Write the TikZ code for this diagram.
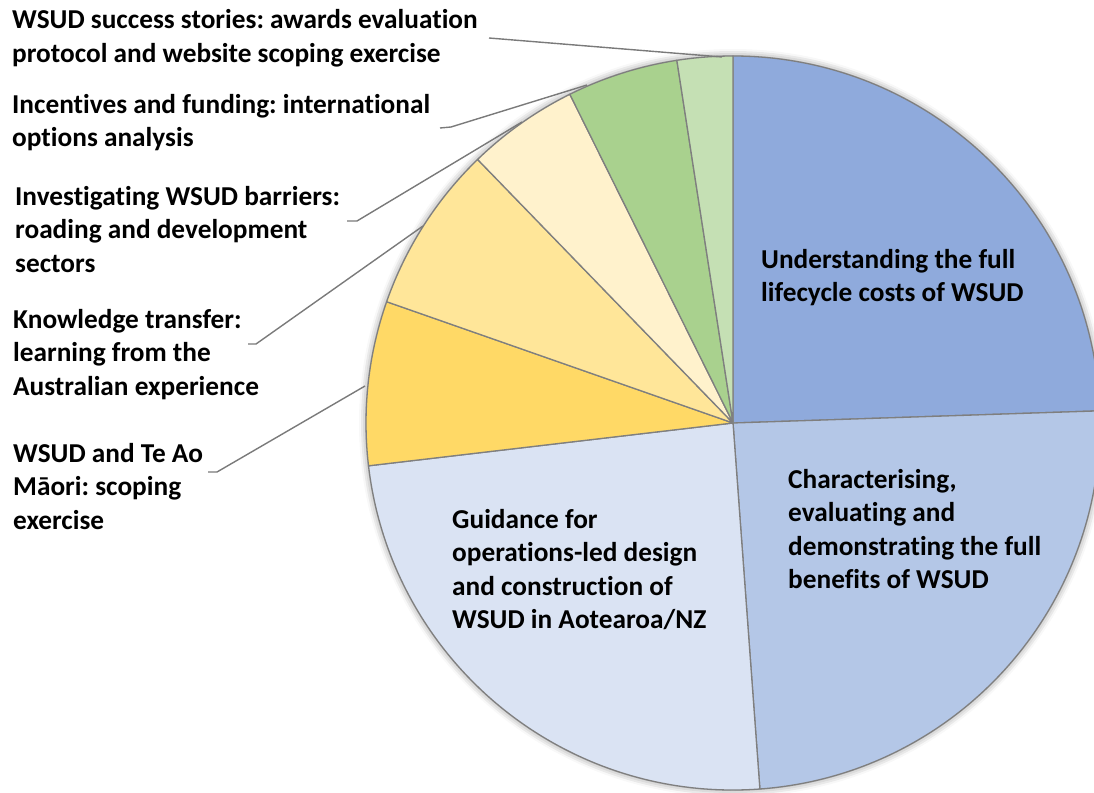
\documentclass[tikz,border=0pt]{standalone}
\usepackage{fontspec}
\setmainfont{Carlito}[Ligatures=NoCommon]
\frenchspacing
\usetikzlibrary{shadows.blur}
\definecolor{sA}{HTML}{8FAADC}
\definecolor{sB}{HTML}{B4C7E7}
\definecolor{sC}{HTML}{DAE3F3}
\definecolor{sD}{HTML}{FFD966}
\definecolor{sE}{HTML}{FFE699}
\definecolor{sF}{HTML}{FFF2CC}
\definecolor{sG}{HTML}{A9D18E}
\definecolor{sH}{HTML}{C5E0B4}
\definecolor{edgegray}{HTML}{7F7F7F}
\definecolor{leadgray}{HTML}{7A7A7A}
\begin{document}
\begin{tikzpicture}[x=1pt,y=-1pt,
  wedge/.style={draw=edgegray, line width=1.3pt, line join=round},
  lbl/.style={anchor=base west, inner sep=0pt, align=left, text=black,
    font=\bfseries\fontsize{27.3}{33.5}\selectfont},
  leader/.style={draw=leadgray, line width=1.4pt, line join=round}]
\useasboundingbox (0,0) rectangle (1094,792);
\clip (0,0) rectangle (1094,792);
\def\R{367}
\begin{scope}[shift={(733,423)}]
  \coordinate (C) at (0,0);
  \path[blur shadow={shadow xshift=0pt, shadow yshift=0pt, shadow blur radius=7pt, shadow opacity=45}, fill=white] (C) circle[radius=\R];
  \filldraw[wedge, fill=sA] (C) -- (-90:\R) arc[start angle=-90, end angle=-1.9, radius=\R] -- cycle;
  \filldraw[wedge, fill=sB] (C) -- (-1.9:\R) arc[start angle=-1.9, end angle=85.8, radius=\R] -- cycle;
  \filldraw[wedge, fill=sC] (C) -- (85.8:\R) arc[start angle=85.8, end angle=173.3, radius=\R] -- cycle;
  \filldraw[wedge, fill=sD] (C) -- (173.3:\R) arc[start angle=173.3, end angle=199.3, radius=\R] -- cycle;
  \filldraw[wedge, fill=sE] (C) -- (199.3:\R) arc[start angle=199.3, end angle=225.9, radius=\R] -- cycle;
  \filldraw[wedge, fill=sF] (C) -- (225.9:\R) arc[start angle=225.9, end angle=243.6, radius=\R] -- cycle;
  \filldraw[wedge, fill=sG] (C) -- (243.6:\R) arc[start angle=243.6, end angle=261.2, radius=\R] -- cycle;
  \filldraw[wedge, fill=sH] (C) -- (261.2:\R) arc[start angle=261.2, end angle=270, radius=\R] -- cycle;
\end{scope}

% inner labels (anchored at the baseline of their last line)
\node[lbl] (inA) at (761,301.5) {Understanding the full\\lifecycle costs of WSUD};
\node[lbl] (inB) at (788,588.5) {Characterising,\\evaluating and\\demonstrating the full\\benefits of WSUD};
\node[lbl] (inC) at (452,628.5) {Guidance for\\operations-led design\\and construction of\\WSUD in Aotearoa/NZ};

% outer labels
\node[lbl] (labH) at (12,62.5) {WSUD success stories: awards evaluation\\protocol and website scoping exercise};
\node[lbl] (labG) at (12,146.5) {Incentives and funding: international\\options analysis};
\node[lbl] (labF) at (15,272) {Investigating WSUD barriers:\\roading and development\\sectors};
\node[lbl] (labE) at (13,395) {Knowledge transfer:\\learning from the\\Australian experience};
\node[lbl] (labD) at (13,529) {WSUD and Te Ao\\Māori: scoping\\exercise};

% leader line anchor points
\coordinate (hS) at (489,38);  \coordinate (hE) at (722,57);
\coordinate (gS) at (440,128); \coordinate (gK) at (451,127); \coordinate (gE) at (587,85);
\coordinate (fS) at (347,221); \coordinate (fK) at (357,221); \coordinate (fE) at (522,122);
\coordinate (eS) at (248,344); \coordinate (eK) at (256,344); \coordinate (eE) at (423,226);
\coordinate (dS) at (208,472); \coordinate (dK) at (217,472); \coordinate (dE) at (365,386);

\draw[leader] (hS) -- (hE);
\draw[leader] (gS) -- (gK) -- (gE);
\draw[leader] (fS) -- (fK) -- (fE);
\draw[leader] (eS) -- (eK) -- (eE);
\draw[leader] (dS) -- (dK) -- (dE);
\end{tikzpicture}
\end{document}
